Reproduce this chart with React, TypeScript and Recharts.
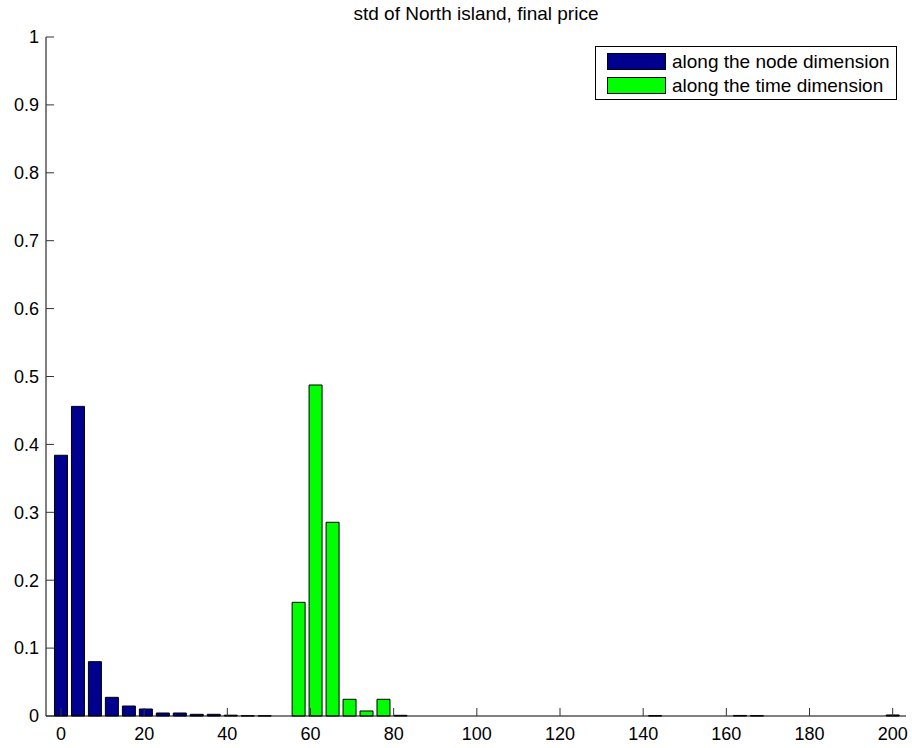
import React from 'react';
import { BarChart, Bar, XAxis, YAxis, Legend } from 'recharts';

const binCenters = [
  0, 4.08, 8.16, 12.24, 16.33, 20.41, 24.49, 28.57, 32.65, 36.73,
  40.82, 44.9, 48.98, 53.06, 57.14, 61.22, 65.31, 69.39, 73.47, 77.55,
  81.63, 85.71, 89.8, 93.88, 97.96, 102.04, 106.12, 110.2, 114.29, 118.37,
  122.45, 126.53, 130.61, 134.69, 138.78, 142.86, 146.94, 151.02, 155.1, 159.18,
  163.27, 167.35, 171.43, 175.51, 179.59, 183.67, 187.76, 191.84, 195.92, 200,
];

const nodeStd = [
  0.384, 0.456, 0.08, 0.0275, 0.0147, 0.0103, 0.0044, 0.0044, 0.0025, 0.0025,
  0.0012, 0.0004, 0.0003, 0, 0, 0, 0, 0, 0, 0,
  0, 0, 0, 0, 0, 0, 0, 0, 0, 0,
  0, 0, 0, 0, 0, 0.0005, 0, 0, 0, 0,
  0.0008, 0, 0, 0, 0, 0, 0, 0, 0, 0.0015,
];

const timeStd = [
  0, 0, 0, 0, 0, 0, 0, 0, 0, 0,
  0, 0, 0, 0, 0.1674, 0.4875, 0.2853, 0.0246, 0.0074, 0.0246,
  0.001, 0, 0, 0, 0, 0, 0, 0, 0, 0,
  0, 0, 0, 0, 0, 0, 0, 0, 0, 0,
  0, 0.0005, 0, 0, 0, 0, 0, 0, 0, 0,
];

const xTicks = [0, 20, 40, 60, 80, 100, 120, 140, 160, 180, 200];
const yTicks = [0, 0.1, 0.2, 0.3, 0.4, 0.5, 0.6, 0.7, 0.8, 0.9, 1];

const seriesNames = ['along the node dimension', 'along the time dimension'];
const titleText = 'std of North island, final price';

const data = binCenters.map((x, i) => ({ x, node: nodeStd[i], time: timeStd[i] }));

const FONT = '"Liberation Sans", Arial, Helvetica, sans-serif';

const LegendBox = (props: any) => {
  const payload = props.payload || [];
  return (
    <div
      style={{
        width: 300,
        height: 52,
        border: '1px solid #000',
        background: '#fff',
        fontFamily: FONT,
        fontSize: 19,
        color: '#000',
        boxSizing: 'content-box',
      }}
    >
      {payload.map((p: any, i: number) => (
        <div
          key={i}
          style={{
            position: 'absolute',
            left: 12,
            top: 7 + i * 24,
            height: 17,
            display: 'flex',
            alignItems: 'center',
            whiteSpace: 'nowrap',
          }}
        >
          <div
            style={{
              width: 57,
              height: 15,
              background: p.color,
              border: '1px solid #000',
              marginRight: 6,
            }}
          />
          <span style={{ lineHeight: '17px' }}>{p.value}</span>
        </div>
      ))}
    </div>
  );
};

export default function App() {
  return (
    <div style={{ position: 'absolute', left: 0, top: 0, width: 912, height: 748, background: '#fff' }}>
      <div
        style={{
          position: 'absolute',
          left: 0,
          width: 952,
          top: 2,
          textAlign: 'center',
          fontFamily: FONT,
          fontSize: 19,
          color: '#000',
          lineHeight: '24px',
        }}
      >
        {titleText}
      </div>
      <BarChart
        width={912}
        height={748}
        data={data}
        margin={{ top: 37, right: 6, left: 0, bottom: 0 }}
        barGap={0}
      >
        <XAxis
          type="number"
          dataKey="x"
          domain={[-3.6, 203.2]}
          allowDataOverflow
          ticks={xTicks}
          height={32}
          tickSize={-8}
          tickMargin={19}
          axisLine={{ stroke: '#000' }}
          tickLine={{ stroke: '#333' }}
          tick={{ fill: '#000', fontSize: 18, fontFamily: FONT }}
        />
        <YAxis
          type="number"
          domain={[0, 1]}
          ticks={yTicks}
          width={46}
          tickSize={-8}
          tickMargin={15}
          axisLine={{ stroke: '#000' }}
          tickLine={{ stroke: '#333' }}
          tick={{ fill: '#000', fontSize: 18, fontFamily: FONT }}
        />
        <Legend
          layout="horizontal"
          verticalAlign="middle"
          align="center"
          content={<LegendBox />}
          wrapperStyle={{ position: 'absolute', left: 595, top: 46, width: 302, height: 54 }}
        />
        <Bar
          dataKey="node"
          name={seriesNames[0]}
          stackId="s"
          fill="#00008f"
          stroke="#000"
          strokeWidth={1}
          barSize={13}
          isAnimationActive={false}
        />
        <Bar
          dataKey="time"
          name={seriesNames[1]}
          stackId="s"
          fill="#00ff00"
          stroke="#000"
          strokeWidth={1}
          barSize={13}
          isAnimationActive={false}
        />
      </BarChart>
    </div>
  );
}
